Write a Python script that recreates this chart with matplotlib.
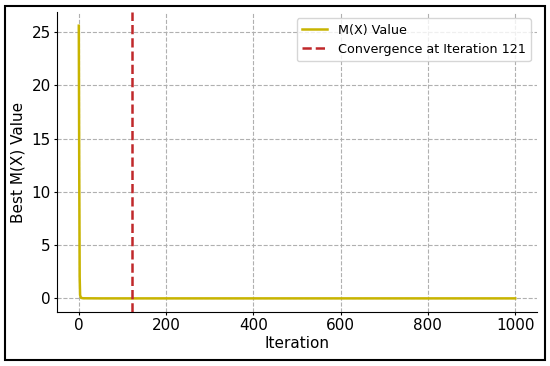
import matplotlib
matplotlib.use("Agg")
import matplotlib.pyplot as plt
from matplotlib.patches import Rectangle

# Data
iterations = [0, 1, 2, 3, 5, 10, 50, 121, 500, 1000]
best_values = [25.6, 12.0, 2.0, 0.3, 0.05, 0.01, 0.0, 0.0, 0.0, 0.0]
convergence_iter = 121

fig = plt.figure(figsize=(5.5, 3.66), dpi=100)
ax = fig.add_axes([0.1036, 0.1475, 0.8728, 0.8195])

ax.plot(iterations, best_values, color='#c8b400', linewidth=1.8, label='M(X) Value')
ax.axvline(convergence_iter, color='#c0282a', linestyle='--', linewidth=1.8,
           label=f'Convergence at Iteration {convergence_iter}')

ax.set_xlabel('Iteration', fontsize=11, labelpad=2)
ax.set_ylabel('Best M(X) Value', fontsize=11, labelpad=4)
ax.tick_params(labelsize=11, length=2.5, pad=2)
ax.set_xticks([0, 200, 400, 600, 800, 1000])
ax.set_yticks([0, 5, 10, 15, 20, 25])
ax.grid(True, linestyle='--', color='#b0b0b0', linewidth=0.8)
ax.spines['top'].set_visible(False)
ax.spines['right'].set_visible(False)
ax.legend(loc='upper right', fontsize=9.2)

fig.add_artist(Rectangle((5/550, 6/366), 540/550, 354/366, transform=fig.transFigure,
                         fill=False, edgecolor='black', linewidth=1.5))

fig.savefig('out.png', dpi=100)
